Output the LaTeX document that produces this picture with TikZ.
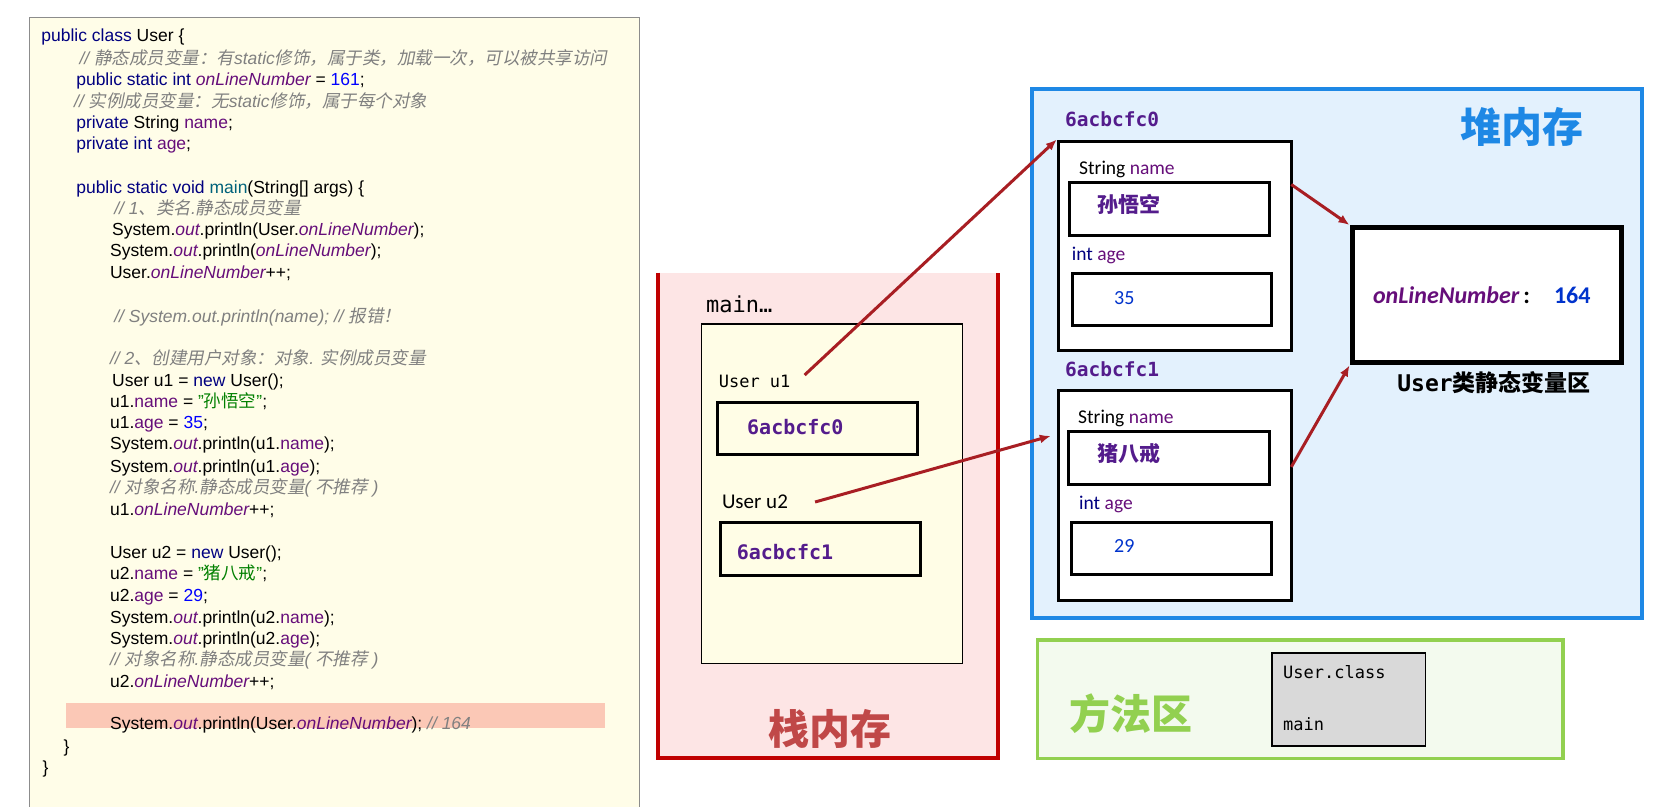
\documentclass[tikz,border=0pt]{standalone}
\usepackage{fontspec}
\setmainfont{Liberation Sans}
\newfontfamily\cjk{Noto Sans CJK SC}
\newfontfamily\cjkit{Noto Sans CJK SC}[FakeSlant=0.2]
\newfontfamily\dvmono{DejaVu Sans Mono}
\newfontfamily\carlito{Carlito}
\usepackage{xcolor}
\usetikzlibrary{arrows.meta, positioning, calc}
\definecolor{kwBlue}{RGB}{0,0,128}
\definecolor{fieldPurple}{RGB}{102,14,122}
\definecolor{numBlue}{RGB}{0,0,255}
\definecolor{strGreen}{RGB}{0,128,0}
\definecolor{cmtGrey}{RGB}{128,128,128}
\definecolor{mainTeal}{RGB}{0,98,122}
\definecolor{panelYellow}{RGB}{255,253,232}
\definecolor{hiliteSalmon}{RGB}{251,200,182}
\definecolor{stackPink}{RGB}{253,229,229}
\definecolor{stackRed}{RGB}{192,0,0}
\definecolor{stackText}{RGB}{192,72,72}
\definecolor{frameYellow}{RGB}{255,253,230}
\definecolor{heapFill}{RGB}{227,241,253}
\definecolor{heapBlue}{RGB}{30,136,229}
\definecolor{methodFill}{RGB}{243,250,238}
\definecolor{methodGreen}{RGB}{146,208,80}
\definecolor{addrPurple}{RGB}{84,28,140}
\definecolor{valBlue}{RGB}{0,51,204}
\definecolor{arrowRed}{RGB}{168,30,35}
\definecolor{classGrey}{RGB}{217,217,217}

\newcommand{\jkw}[1]{\textcolor{kwBlue}{#1}}
\newcommand{\jfld}[1]{\textcolor{fieldPurple}{#1}}
\newcommand{\jsfld}[1]{\textcolor{fieldPurple}{\itshape #1}}
\newcommand{\jnum}[1]{\textcolor{numBlue}{#1}}
\newcommand{\jstr}[1]{\textcolor{strGreen}{\char34 #1\char34}}
\newcommand{\jcmt}[1]{\textcolor{cmtGrey}{\itshape #1}}
\newcommand{\jmtd}[1]{\textcolor{mainTeal}{#1}}
\newcommand{\zh}[1]{{\cjk #1}}
\newcommand{\zi}[1]{{\cjkit #1}}

\begin{document}
\begin{tikzpicture}[
      x=1pt, y=-1pt,
      codeline/.style={anchor=base west, inner sep=0pt,
                       font=\fontsize{17.5}{21}\selectfont},
      area/.style={anchor=north west, inner sep=0pt, minimum width=#1},
      cell/.style={draw, line width=3pt, anchor=north west, inner sep=0pt},
      lbl/.style={anchor=west, inner sep=0pt},
      addr/.style={lbl, text=addrPurple, font=\dvmono\bfseries\fontsize{20}{24}\selectfont},
      field/.style={lbl, font=\carlito\fontsize{19.5}{23}\selectfont},
      title/.style={inner sep=0pt, font=\cjk\bfseries\fontsize{41}{48}\selectfont},
      arr/.style={-{Latex[length=11pt,width=9pt]}, line width=3pt, draw=arrowRed}
    ]
      \useasboundingbox (0,0) rectangle (1657,806);
      \fill[white] (0,0) rectangle (1657,806);

      % code panel
      \node[area=610.5, minimum height=800, draw=black!45, line width=1pt,
            fill=panelYellow] (panel) at (28.5,17) {};
      \node[area=539, minimum height=25.3, fill=hiliteSalmon] (hl) at (65.5,702.8) {};

      \node[codeline] (l1)  at (41.2,41.9)  {\jkw{public class} User \{};
      \node[codeline] (l2)  at (79.3,64.1)  {\jcmt{// \zi{静态成员变量：有}static\zi{修饰，属于类，加载一次，可以被共享访问}}};
      \node[codeline] (l3)  at (76.1,85.3)  {\jkw{public static int} \jsfld{onLineNumber} = \jnum{161};};
      \node[codeline] (l4)  at (74,107.5)   {\jcmt{// \zi{实例成员变量：无}static\zi{修饰，属于每个对象}}};
      \node[codeline] (l5)  at (76.1,128.6) {\jkw{private} String \jfld{name};};
      \node[codeline] (l6)  at (76.1,149.7) {\jkw{private int} \jfld{age};};
      \node[codeline] (l7)  at (76.1,193)   {\jkw{public static void} \jmtd{main}(String[] args) \{};
      \node[codeline] (l8)  at (114.1,214.2) {\jcmt{// 1\zi{、类名}.\zi{静态成员变量}}};
      \node[codeline] (l9)  at (112,235.3)  {System.\jsfld{out}.println(User.\jsfld{onLineNumber});};
      \node[codeline] (l10) at (109.9,256.5) {System.\jsfld{out}.println(\jsfld{onLineNumber});};
      \node[codeline] (l11) at (109.9,278.7) {User.\jsfld{onLineNumber}++;};
      \node[codeline] (l12) at (114.1,322)  {\jcmt{// System.out.println(name); // \zi{报错！}}};
      \node[codeline] (l13) at (109.9,364.3) {\jcmt{// 2\zi{、创建用户对象：对象}. \zi{实例成员变量}}};
      \node[codeline] (l14) at (112,386.4)  {User u1 = \jkw{new} User();};
      \node[codeline] (l15) at (109.9,407.6) {u1.\jfld{name} = \jstr{\zh{孙悟空}};};
      \node[codeline] (l16) at (109.9,428.7) {u1.\jfld{age} = \jnum{35};};
      \node[codeline] (l17) at (109.9,449.9) {System.\jsfld{out}.println(u1.\jfld{name});};
      \node[codeline] (l18) at (109.9,472)  {System.\jsfld{out}.println(u1.\jfld{age});};
      \node[codeline] (l19) at (109.9,493.2) {\jcmt{// \zi{对象名称}.\zi{静态成员变量}( \zi{不推荐} )}};
      \node[codeline] (l20) at (109.9,515.4) {u1.\jsfld{onLineNumber}++;};
      \node[codeline] (l21) at (109.9,558.7) {User u2 = \jkw{new} User();};
      \node[codeline] (l22) at (109.9,579.8) {u2.\jfld{name} = \jstr{\zh{猪八戒}};};
      \node[codeline] (l23) at (109.9,601)  {u2.\jfld{age} = \jnum{29};};
      \node[codeline] (l24) at (109.9,623.2) {System.\jsfld{out}.println(u2.\jfld{name});};
      \node[codeline] (l25) at (109.9,644.3) {System.\jsfld{out}.println(u2.\jfld{age});};
      \node[codeline] (l26) at (109.9,665.4) {\jcmt{// \zi{对象名称}.\zi{静态成员变量}( \zi{不推荐} )}};
      \node[codeline] (l27) at (109.9,687.6) {u2.\jsfld{onLineNumber}++;};
      \node[codeline] (l28) at (109.9,729.9) {System.\jsfld{out}.println(User.\jsfld{onLineNumber}); \jcmt{// 164}};
      \node[codeline] (l29) at (63.4,752)   {\}};
      \node[codeline] (l30) at (42.3,773.2) {\}};

      % stack
      \node[area=339.6, minimum height=485, fill=stackPink] (stack) at (658,272.7) {};
      \draw[stackRed, line width=4pt] (stack.north west) -- (stack.south west)
            -- (stack.south east) -- (stack.north east);
      \node[lbl, font=\dvmono\fontsize{22}{26}\selectfont] (mainlbl) at (706,304) {main…};
      \node[area=261, minimum height=339.2, draw, line width=1.5pt, fill=frameYellow] (frame) at (700.7,323.4) {};
      \node[lbl, font=\dvmono\fontsize{17}{20}\selectfont] (u1lbl) at (718.6,381.5) {User u1};
      \node[cell, fill=frameYellow, minimum width=200.7, minimum height=52.9] (u1box) at (715.5,400.5) {};
      \node[addr] (u1val) at (747,427) {6acbcfc0};
      \node[lbl, font=\carlito\fontsize{21}{25}\selectfont] (u2lbl) at (721.8,502) {User u2};
      \node[cell, fill=frameYellow, minimum width=200.8, minimum height=52.8] (u2box) at (718.6,521) {};
      \node[addr] (u2val) at (736.6,551.6) {6acbcfc1};
      \node[title, text=stackText] (stacktitle) at (829.6,729) {栈内存};

      % heap
      \node[area=609.6, minimum height=529.3, draw=heapBlue, line width=4pt, fill=heapFill] (heap) at (1030.4,86.7) {};
      \node[title, text=heapBlue] (heaptitle) at (1521.8,126.8) {堆内存};
      \node[addr, font=\dvmono\bfseries\fontsize{19.5}{23}\selectfont] (addr0) at (1065,119.4) {6acbcfc0};
      \node[cell, fill=white, minimum width=233.5, minimum height=209.2] (obj1) at (1056.8,139.5) {};
      \node[field] (name1lbl) at (1079,169) {String \textcolor{fieldPurple}{name}};
      \node[cell, fill=white, minimum width=199.8, minimum height=52.9] (name1) at (1068.4,180.7) {};
      \node[lbl, text=addrPurple, font=\cjk\bfseries\fontsize{21}{25}\selectfont] (name1val) at (1097,204) {孙悟空};
      \node[field] (age1lbl) at (1071.6,255.7) {\textcolor{kwBlue}{int} \textcolor{fieldPurple}{age}};
      \node[cell, fill=white, minimum width=199.7, minimum height=52.8] (age1) at (1070.6,271.6) {};
      \node[lbl, text=valBlue, font=\carlito\fontsize{20}{24}\selectfont] (age1val) at (1113.9,298) {35};

      \node[addr, font=\dvmono\bfseries\fontsize{19.5}{23}\selectfont] (addr1) at (1065,368.8) {6acbcfc1};
      \node[cell, fill=white, minimum width=233.5, minimum height=210.3] (obj2) at (1056.8,388.9) {};
      \node[field] (name2lbl) at (1078,418.5) {String \textcolor{fieldPurple}{name}};
      \node[cell, fill=white, minimum width=200.8, minimum height=53] (name2) at (1067.4,430) {};
      \node[lbl, text=addrPurple, font=\cjk\bfseries\fontsize{21}{25}\selectfont] (name2val) at (1097,453.4) {猪八戒};
      \node[field] (age2lbl) at (1079,504) {\textcolor{kwBlue}{int} \textcolor{fieldPurple}{age}};
      \node[cell, fill=white, minimum width=200.8, minimum height=51.8] (age2) at (1069.5,521) {};
      \node[lbl, text=valBlue, font=\carlito\fontsize{20}{24}\selectfont] (age2val) at (1113.9,546.4) {29};

      \node[cell, line width=5pt, fill=white, minimum width=269.5, minimum height=135.4] (stat) at (1349.5,225) {};
      \node[lbl, font=\carlito\bfseries\fontsize{24}{28}\selectfont] (statval) at (1372.8,294.8)
            {\textcolor{fieldPurple}{\itshape onLineNumber}\,:\quad\textcolor{valBlue}{164}};
      \node[inner sep=0pt, font=\bfseries\fontsize{23}{27}\selectfont] (statlbl) at (1494,382.6)
            {{\dvmono User}\zh{类静态变量区}};

      % method area
      \node[area=525.4, minimum height=118.4, draw=methodGreen, line width=3.5pt, fill=methodFill] (method) at (1035.6,638.3) {};
      \node[title, text=methodGreen] (methodtitle) at (1130.8,713.3) {方法区};
      \node[area=153.3, minimum height=93, draw, line width=1.5pt, fill=classGrey] (classbox) at (1271.3,652) {};
      \node[lbl, font=\dvmono\fontsize{17}{20}\selectfont] (classlbl) at (1283,672) {User.class};
      \node[lbl, font=\dvmono\fontsize{17}{20}\selectfont] (mainmth) at (1283,724) {main};

      % references
      \draw[arr] ([xshift=14pt]u1lbl.north east) -- (obj1.north west);
      \draw[arr] ([xshift=27pt]u2lbl.east) -- ([xshift=-6pt,yshift=-47pt]obj2.north west);
      \draw[arr] ([xshift=-2pt,yshift=-45pt]obj1.north east) -- (stat.north west);
      \draw[arr] ([xshift=-2pt,yshift=-78pt]obj2.north east) -- (stat.south west);
    \end{tikzpicture}
\end{document}
